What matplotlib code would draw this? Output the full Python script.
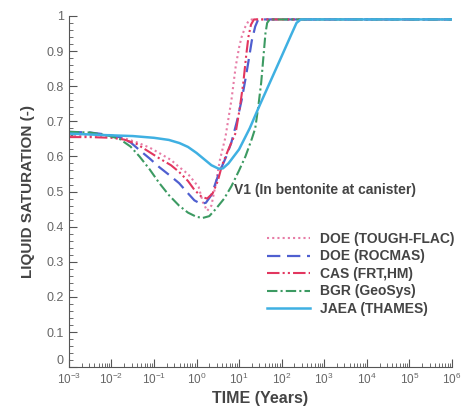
import numpy as np
import matplotlib
matplotlib.use("Agg")
import matplotlib.pyplot as plt
from matplotlib.ticker import LogLocator, MultipleLocator, LogFormatterMathtext

plt.rcParams['font.family'] = ['Liberation Sans', 'DejaVu Sans']

# log10(time in years) and liquid saturation for each model
doe_tf_logt = [-3, -2.5, -2, -1.7, -1.4, -1.1, -0.88, -0.6, -0.41, -0.2, 0.05, 0.15, 0.25, 0.35, 0.45, 0.55, 0.68, 0.82, 0.92, 1.0, 1.06, 1.15, 1.22, 1.3, 6]
doe_tf_s    = [0.66, 0.66, 0.657, 0.652, 0.64, 0.625, 0.61, 0.59, 0.57, 0.55, 0.513, 0.47, 0.445, 0.46, 0.52, 0.59, 0.655, 0.76, 0.855, 0.91, 0.94, 0.97, 0.985, 0.99, 0.99]

doe_rm_logt = [-3, -2.5, -2.1, -1.81, -1.55, -1.34, -1.1, -0.88, -0.65, -0.41, -0.2, -0.05, 0.1, 0.22, 0.35, 0.52, 0.7, 0.82, 0.95, 1.06, 1.15, 1.22, 1.3, 1.38, 1.45, 6]
doe_rm_s    = [0.67, 0.668, 0.662, 0.655, 0.64, 0.618, 0.594, 0.57, 0.548, 0.524, 0.495, 0.475, 0.465, 0.468, 0.49, 0.55, 0.6, 0.64, 0.7, 0.76, 0.82, 0.87, 0.93, 0.97, 0.99, 0.99]

cas_logt = [-3, -2.5, -2, -1.7, -1.4, -1.1, -0.88, -0.6, -0.41, -0.2, -0.05, 0.12, 0.25, 0.38, 0.5, 0.6, 0.75, 0.92, 1.02, 1.1, 1.17, 1.22, 1.28, 1.35, 6]
cas_s    = [0.655, 0.655, 0.653, 0.648, 0.635, 0.612, 0.595, 0.575, 0.556, 0.53, 0.505, 0.485, 0.48, 0.495, 0.53, 0.575, 0.62, 0.667, 0.74, 0.81, 0.89, 0.94, 0.975, 0.99, 0.99]

bgr_logt = [-3, -2.5, -2.1, -1.81, -1.55, -1.34, -1.1, -0.88, -0.65, -0.41, -0.2, 0.0, 0.15, 0.3, 0.45, 0.65, 0.82, 1.0, 1.15, 1.3, 1.38, 1.45, 1.52, 1.57, 1.62, 1.66, 1.72, 6]
bgr_s    = [0.67, 0.668, 0.66, 0.65, 0.628, 0.6, 0.563, 0.525, 0.49, 0.46, 0.44, 0.428, 0.425, 0.43, 0.45, 0.48, 0.515, 0.56, 0.6, 0.65, 0.68, 0.74, 0.81, 0.88, 0.95, 0.98, 0.99, 0.99]

jaea_logt = [-3, -2, -1.5, -1, -0.65, -0.4, -0.2, 0.0, 0.2, 0.35, 0.52, 0.62, 0.75, 1.0, 1.25, 1.5, 1.76, 2.0, 2.22, 2.35, 2.45, 6]
jaea_s    = [0.665, 0.66, 0.658, 0.653, 0.647, 0.638, 0.627, 0.61, 0.59, 0.575, 0.565, 0.566, 0.58, 0.62, 0.68, 0.75, 0.82, 0.885, 0.945, 0.98, 0.99, 0.99]

labels = ["DOE (TOUGH-FLAC)", "DOE (ROCMAS)", "CAS (FRT,HM)", "BGR (GeoSys)", "JAEA (THAMES)"]
ytick_labels = ['0', '0.1', '0.2', '0.3', '0.4', '0.5', '0.6', '0.7', '0.8', '0.9', '1']

fig = plt.figure(figsize=(4.62, 4.08), dpi=100)
ax = fig.add_axes([0.149, 0.10, 0.829, 0.861])

ax.plot(10**np.array(doe_tf_logt), doe_tf_s, color='#e77ca6', ls=(0, (1, 1.5)), lw=1.5, label=labels[0])
ax.plot(10**np.array(doe_rm_logt), doe_rm_s, color='#4f5fd0', ls=(0, (6, 3)), lw=1.6, label=labels[1])
ax.plot(10**np.array(cas_logt), cas_s, color='#e2365f', ls=(0, (6, 1.5, 1, 1.5, 1, 1.5)), lw=1.5, label=labels[2])
ax.plot(10**np.array(bgr_logt), bgr_s, color='#3c9a62', ls=(0, (5, 1.5, 1, 1.5)), lw=1.5, label=labels[3])
ax.plot(10**np.array(jaea_logt), jaea_s, color='#3fb0e2', ls='-', lw=1.8, label=labels[4])

ax.set_xscale('log')
ax.set_xlim(1e-3, 1e6)
ax.set_ylim(0, 1)
ax.xaxis.set_major_locator(LogLocator(base=10, numticks=20))
ax.xaxis.set_minor_locator(LogLocator(base=10, subs=np.arange(2, 10), numticks=200))
ax.xaxis.set_major_formatter(LogFormatterMathtext())
ax.set_yticks(np.arange(0, 1.01, 0.1))
ax.set_yticklabels(ytick_labels)
ax.yaxis.set_minor_locator(MultipleLocator(0.02))
ax.get_yticklabels()[0].set_verticalalignment('bottom')

for s in ['top', 'right']:
    ax.spines[s].set_visible(False)
for s in ['left', 'bottom']:
    ax.spines[s].set_color('#555555')

ax.tick_params(which='both', direction='in', colors='#555555', labelcolor='#666666', labelsize=9)
ax.tick_params(axis='x', labelsize=8.5)
ax.tick_params(which='major', length=6)
ax.tick_params(which='minor', length=3)

ax.set_xlabel('TIME (Years)', fontsize=11.5, fontweight='bold', color='#444444', labelpad=3)
ax.set_ylabel('LIQUID SATURATION (-)', fontsize=11, fontweight='bold', color='#444444', labelpad=8)

ax.text(10**0.87, 0.504, 'V1 (In bentonite at canister)', fontsize=10, fontweight='bold',
        color='#444444', va='center', ha='left')

leg = ax.legend(loc='upper left', bbox_to_anchor=(0.517, 0.385), frameon=False, fontsize=10,
                handlelength=3.1, handletextpad=0.7, labelspacing=0.25, borderaxespad=0, borderpad=0)
for t in leg.get_texts():
    t.set_fontweight('bold')
    t.set_color('#444444')

fig.savefig('out.png', dpi=100)
